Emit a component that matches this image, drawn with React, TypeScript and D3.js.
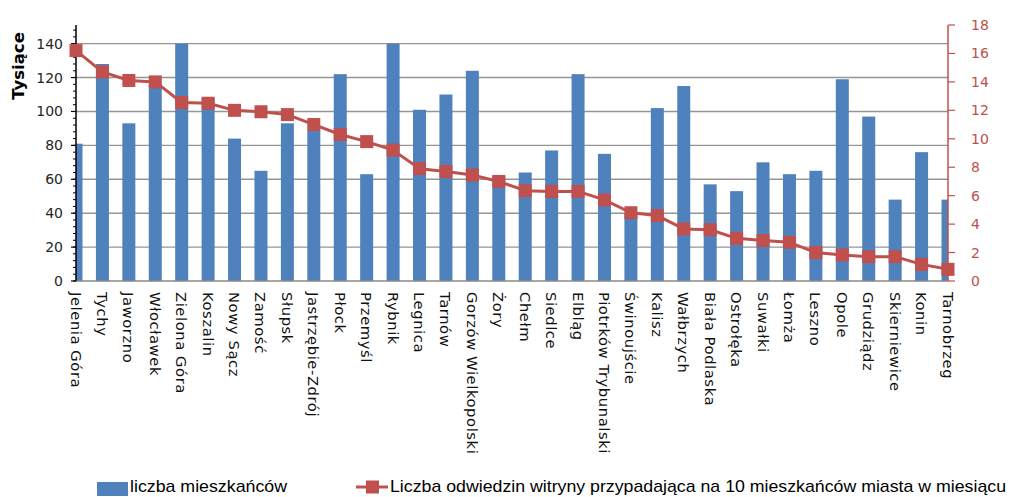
import React from "react";
import * as d3 from "d3";

const cities = [
  "Jelenia Góra", "Tychy", "Jaworzno", "Włocławek", "Zielona Góra", "Koszalin",
  "Nowy Sącz", "Zamość", "Słupsk", "Jastrzębie-Zdrój", "Płock", "Przemyśl",
  "Rybnik", "Legnica", "Tarnów", "Gorzów Wielkopolski", "Żory", "Chełm",
  "Siedlce", "Elbląg", "Piotrków Trybunalski", "Świnoujście", "Kalisz",
  "Wałbrzych", "Biała Podlaska", "Ostrołęka", "Suwałki", "Łomża", "Leszno",
  "Opole", "Grudziądz", "Skierniewice", "Konin", "Tarnobrzeg",
];

// liczba mieszkańców (tysiące)
const population = [
  81, 128, 93, 116, 140, 108, 84, 65, 93, 89, 122, 63, 140, 101, 110, 124, 62,
  64, 77, 122, 75, 40, 102, 115, 57, 53, 70, 63, 65, 119, 97, 48, 76, 48,
];

// odwiedziny na 10 mieszkańców miesięcznie
const visits = [
  16.2, 14.7, 14.1, 14.0, 12.55, 12.5, 12.0, 11.9, 11.7, 11.0, 10.3, 9.8, 9.2,
  7.9, 7.7, 7.45, 7.0, 6.35, 6.3, 6.3, 5.7, 4.8, 4.6, 3.66, 3.6, 3.0, 2.84,
  2.72, 2.0, 1.83, 1.71, 1.71, 1.17, 0.82,
];

const leftTicks = [0, 20, 40, 60, 80, 100, 120, 140];
const rightTicks = [0, 2, 4, 6, 8, 10, 12, 14, 16, 18];

const BLUE = "#4F81BD";
const RED = "#C0504D";
const FONT = "'DejaVu Sans', Verdana, sans-serif";

export default function App() {
  const W = 1012;
  const H = 497;
  const x0 = 76;
  const x1 = 948;
  const yBottom = 281;
  const yTop = 25;

  const x = d3.scalePoint<string>().domain(cities).range([x0, x1]);
  const yL = d3.scaleLinear().domain([0, 151]).range([yBottom, yTop]);
  const yR = d3.scaleLinear().domain([0, 18]).range([yBottom, yTop]);
  const barW = 13;
  const minorTicks = d3.range(0, 152, 4);

  const line = d3
    .line<number>()
    .x((_, i) => x(cities[i]) as number)
    .y((d) => yR(d));

  return (
    <svg
      width={W}
      height={H}
      style={{ position: "absolute", left: 0, top: 0, background: "#fff" }}
    >
      <defs>
        <clipPath id="plot">
          <rect x={x0} y={0} width={x1 - x0} height={yBottom} />
        </clipPath>
      </defs>

      {/* gridlines */}
      {leftTicks.slice(1).map((t) => (
        <line
          key={t}
          x1={x0}
          x2={x1}
          y1={yL(t)}
          y2={yL(t)}
          stroke="#959595"
          strokeWidth={1.4}
        />
      ))}

      {/* bars */}
      <g clipPath="url(#plot)">
        {population.map((v, i) => (
          <rect
            key={cities[i]}
            x={(x(cities[i]) as number) - barW / 2}
            y={yL(v)}
            width={barW}
            height={yBottom - yL(v)}
            fill={BLUE}
          />
        ))}
      </g>

      {/* x axis line */}
      <line x1={x0} x2={x1} y1={yBottom} y2={yBottom} stroke="#8a8a8a" strokeWidth={1.6} />

      {/* left axis */}
      <line x1={x0} x2={x0} y1={yTop} y2={yBottom} stroke="#000" strokeWidth={1.5} />
      {minorTicks.map((t) => (
        <line key={"m" + t} x1={x0 - 3} x2={x0} y1={yL(t)} y2={yL(t)} stroke="#000" strokeWidth={1} />
      ))}
      {leftTicks.map((t) => (
        <g key={"l" + t}>
          <line x1={x0 - 5} x2={x0} y1={yL(t)} y2={yL(t)} stroke="#000" strokeWidth={1.2} />
          <text
            x={63}
            y={yL(t)}
            textAnchor="end"
            dominantBaseline="central"
            fontFamily={FONT}
            fontSize={14}
            fill="#262626"
          >
            {t}
          </text>
        </g>
      ))}
      <text
        transform={`translate(18,66) rotate(-90)`}
        textAnchor="middle"
        dominantBaseline="central"
        fontFamily={FONT}
        fontWeight="bold"
        fontSize={16.5}
        fill="#000"
      >
        Tysiące
      </text>

      {/* right axis */}
      <line x1={x1} x2={x1} y1={yTop} y2={yBottom} stroke={RED} strokeWidth={1.5} />
      {rightTicks.map((t) => (
        <g key={"r" + t}>
          <line x1={x1} x2={x1 + 7} y1={yR(t)} y2={yR(t)} stroke={RED} strokeWidth={1.2} />
          <text
            x={971}
            y={yR(t)}
            textAnchor="start"
            dominantBaseline="central"
            fontFamily={FONT}
            fontSize={14}
            fill={RED}
          >
            {t}
          </text>
        </g>
      ))}

      {/* line series */}
      <path d={line(visits) || ""} fill="none" stroke={RED} strokeWidth={3} strokeLinejoin="round" />
      {visits.map((v, i) => (
        <rect
          key={"p" + i}
          x={(x(cities[i]) as number) - 6.5}
          y={yR(v) - 6.5}
          width={13}
          height={13}
          fill={RED}
        />
      ))}

      {/* x labels */}
      {cities.map((c) => (
        <text
          key={"x" + c}
          transform={`translate(${x(c)},292) rotate(90)`}
          textAnchor="start"
          dominantBaseline="central"
          fontFamily={FONT}
          fontSize={14.8}
          letterSpacing={0.55}
          fill="#111"
        >
          {c}
        </text>
      ))}

      {/* legend */}
      <rect x={97} y={482} width={31} height={14} fill={BLUE} />
      <text
        x={130}
        y={492}
        fontFamily="'Liberation Sans', Arial, sans-serif"
        fontSize={17}
        textLength={157}
        lengthAdjust="spacingAndGlyphs"
        fill="#000"
      >
        liczba mieszkańców
      </text>
      <line x1={356} x2={388} y1={487} y2={487} stroke={RED} strokeWidth={3} />
      <rect x={366} y={480.5} width={13} height={13} fill={RED} />
      <text
        x={390}
        y={492}
        fontFamily="'Liberation Sans', Arial, sans-serif"
        fontSize={17}
        textLength={616}
        lengthAdjust="spacingAndGlyphs"
        fill="#000"
      >
        Liczba odwiedzin witryny przypadająca na 10 mieszkańców miasta w miesiącu
      </text>
    </svg>
  );
}
